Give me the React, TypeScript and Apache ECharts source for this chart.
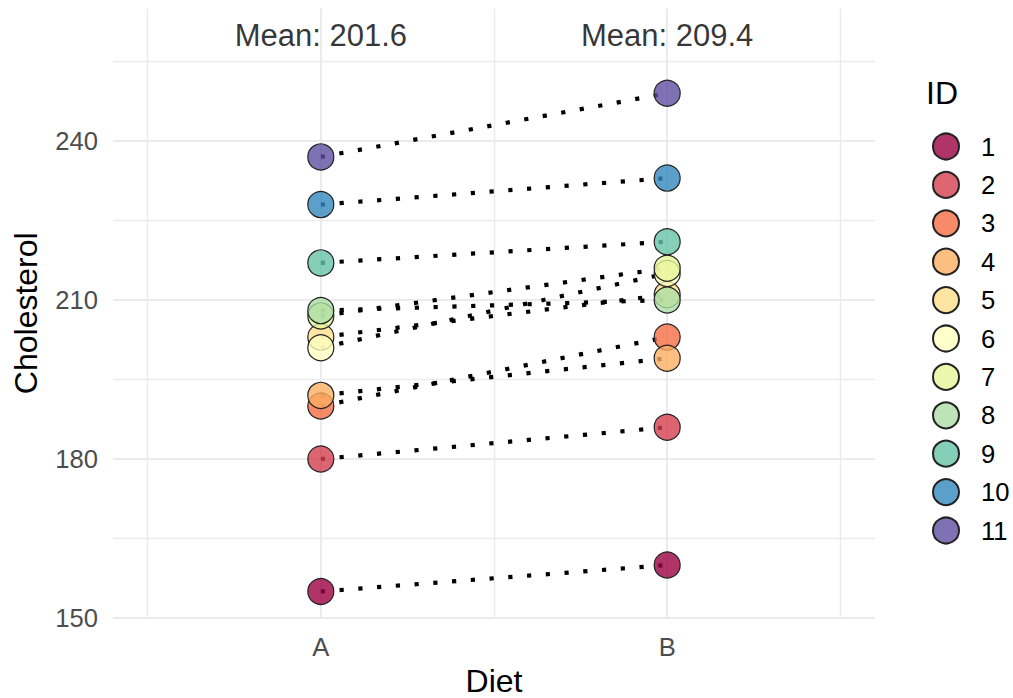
import React, { useEffect, useRef } from "react";
import * as echarts from "echarts";

// ---- data ----
const categories = ["A", "B"];
const ids = ["1", "2", "3", "4", "5", "6", "7", "8", "9", "10", "11"];
const dietA = [155, 180, 190, 192, 203, 201, 207, 208, 217, 228, 237];
const dietB = [160, 186, 203, 199, 211, 215, 216, 210, 221, 233, 249];
const palette = [
  "#9E0142", "#D53E4F", "#F46D43", "#FDAE61", "#FEE08B", "#FFFFBF",
  "#E6F598", "#ABDDA4", "#66C2A5", "#3288BD", "#5E4FA2",
];
const yMajorTicks = [150, 180, 210, 240];
const yMinorTicks = [165, 195, 225, 255];
const xMajorTicks = [1, 2];
const xMinorTicks = [0.5, 1.5, 2.5];
const yMin = 150;
const yMax = 265;
const meanLabelY = 260;

const FONT = "'Liberation Sans', Arial, Helvetica, sans-serif";

function withAlpha(hex: string, a: number) {
  const r = parseInt(hex.slice(1, 3), 16);
  const g = parseInt(hex.slice(3, 5), 16);
  const b = parseInt(hex.slice(5, 7), 16);
  return `rgba(${r},${g},${b},${a})`;
}

function mean(arr: number[]) {
  return arr.reduce((s, v) => s + v, 0) / arr.length;
}

export default function App() {
  const ref = useRef<HTMLDivElement>(null);
  useEffect(() => {
    if (!ref.current) return;
    const chart = echarts.init(ref.current, null, { renderer: "svg" });

    const gridSeries: any = {
      type: "line",
      name: "__grid",
      data: [],
      silent: true,
      z: 0,
      markLine: {
        silent: true,
        symbol: "none",
        z: 0,
        label: { show: false },
        emphasis: { disabled: true },
        data: [
          ...yMajorTicks.map((v) => ({ yAxis: v, lineStyle: { color: "#EBEBEB", width: 2, type: "solid" } })),
          ...yMinorTicks.map((v) => ({ yAxis: v, lineStyle: { color: "#EBEBEB", width: 1.4, type: "solid" } })),
          ...xMajorTicks.map((v) => ({ xAxis: v, lineStyle: { color: "#EBEBEB", width: 2, type: "solid" } })),
          ...xMinorTicks.map((v) => ({ xAxis: v, lineStyle: { color: "#EBEBEB", width: 1.4, type: "solid" } })),
        ],
      },
    };

    const lineSeries = ids.map((id, i) => ({
      type: "line",
      name: "line-" + id,
      data: [
        [1, dietA[i]],
        [2, dietB[i]],
      ],
      symbol: "none",
      z: 2,
      silent: true,
      lineStyle: { color: "#000", width: 4.2, type: [4.2, 14.6], cap: "butt" },
    }));

    const pointSeries = ids.map((id, i) => ({
      type: "scatter",
      name: id,
      data: [
        [1, dietA[i]],
        [2, dietB[i]],
      ],
      symbol: "circle",
      symbolSize: 26,
      z: 3,
      itemStyle: {
        color: withAlpha(palette[i], 0.8),
        borderColor: "#222",
        borderWidth: 1.2,
        opacity: 1,
      },
    }));

    const meanSeries = {
      type: "scatter",
      name: "__mean",
      data: [
        [1, meanLabelY, mean(dietA)],
        [2, meanLabelY, mean(dietB)],
      ],
      symbolSize: 0,
      z: 4,
      silent: true,
      label: {
        show: true,
        position: "inside",
        formatter: (p: any) => "Mean: " + p.value[2].toFixed(1),
        fontFamily: FONT,
        fontSize: 31,
        color: "#000",
      },
    };

    chart.setOption({
      animation: false,
      backgroundColor: "#fff",
      textStyle: { fontFamily: FONT },
      grid: {
        left: 113,
        right: 138,
        top: 8.5,
        bottom: 80,
        containLabel: false,
        outerBoundsMode: "none",
      },
      xAxis: {
        type: "value",
        min: 0.4,
        max: 2.6,
        name: "Diet",
        nameLocation: "middle",
        nameGap: 46,
        nameTextStyle: { fontFamily: FONT, fontSize: 32, color: "#000", lineHeight: 30 },
        axisLine: { show: false },
        axisTick: { show: false },
        splitLine: { show: false },
        axisLabel: {
          customValues: xMajorTicks,
          formatter: (v: number) => categories[Math.round(v) - 1] ?? "",
          fontFamily: FONT,
          fontSize: 25.6,
          color: "#4D4D4D",
          margin: 16,
        },
      },
      yAxis: {
        type: "value",
        min: yMin,
        max: yMax,
        name: "Cholesterol",
        nameLocation: "middle",
        nameGap: 71,
        nameTextStyle: { fontFamily: FONT, fontSize: 32, color: "#000" },
        axisLine: { show: false },
        axisTick: { show: false },
        splitLine: { show: false },
        axisLabel: {
          customValues: yMajorTicks,
          fontFamily: FONT,
          fontSize: 25.6,
          color: "#4D4D4D",
          margin: 15,
        },
      },
      legend: {
        data: ids,
        orient: "vertical",
        left: 932,
        top: 132.5,
        padding: 0,
        itemWidth: 26,
        itemHeight: 26,
        itemGap: 10.4,
        icon: "circle",
        selectedMode: false,
        textStyle: {
          fontFamily: FONT,
          fontSize: 25.6,
          color: "#000",
          lineHeight: 26,
          padding: [0, 0, 0, 17],
        },
      },
      graphic: [
        {
          type: "text",
          left: 926,
          top: 77,
          style: { text: "ID", font: `32px ${FONT}`, fill: "#000" },
        },
      ],
      series: [gridSeries, ...lineSeries, ...pointSeries, meanSeries],
    });
    return () => chart.dispose();
  }, []);
  return (
    <div
      ref={ref}
      style={{ position: "fixed", left: 0, top: 0, width: 1013, height: 698 }}
    />
  );
}
